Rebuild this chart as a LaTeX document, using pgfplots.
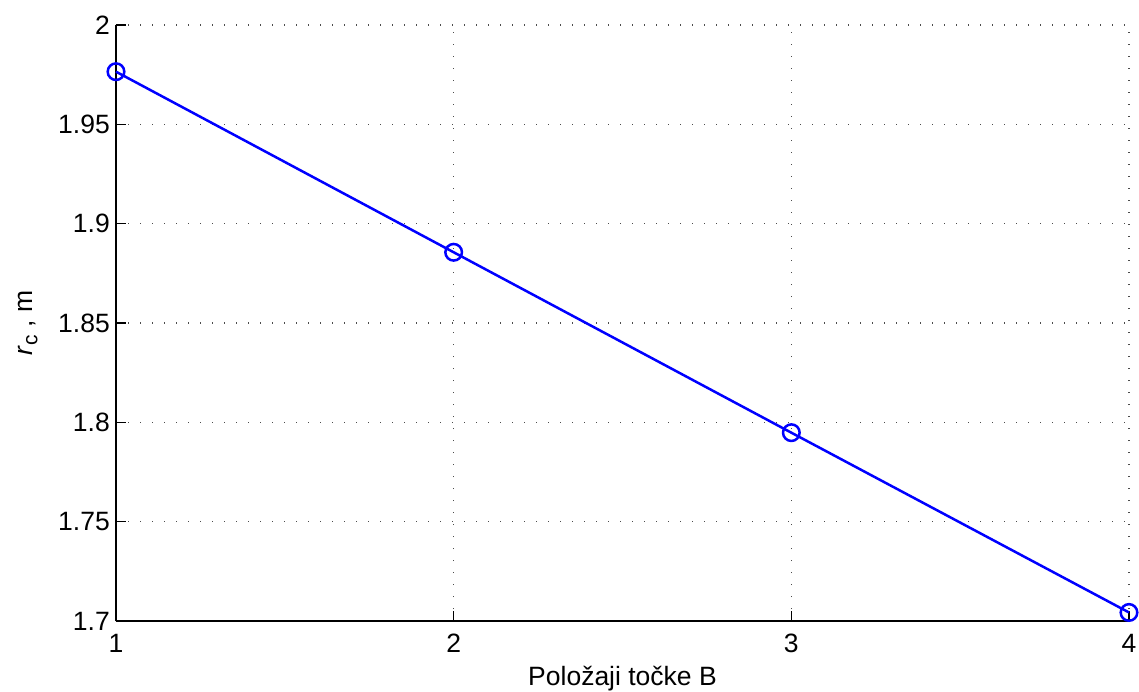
\documentclass[border=0pt]{standalone}
\usepackage{pgfplots}
\pgfplotsset{compat=1.18}
\usepackage{fontspec}
\setmainfont{Liberation Sans}
\begin{document}
\begin{tikzpicture}
\path[use as bounding box] (-116pt,-70pt) rectangle (1023pt,621pt);
\begin{axis}[
  at={(0pt,0pt)}, anchor=south west,
  scale only axis, width=1013pt, height=596pt,
  xmin=1, xmax=4, ymin=1.7, ymax=2,
  xtick={1,2,3,4},
  ytick={1.7,1.75,1.8,1.85,1.9,1.95,2},
  axis x line*=bottom, axis y line*=left,
  axis line style={black, line width=1.2pt},
  tick align=inside, major tick length=10pt,
  tick style={black, line width=1.2pt},
  grid=major,
  major grid style={black!70, line width=1.3pt, dash pattern=on 1.3pt off 10.7pt},
  /pgf/number format/assume math mode=true,
  tick label style={font=\fontsize{26.5}{31}\selectfont},
  xticklabel style={anchor=base, yshift=-31pt},
  yticklabel style={anchor=east, inner sep=0pt, xshift=-6pt},
  label style={font=\fontsize{26.5}{31}\selectfont},
  xlabel={Položaji točke B},
  xlabel style={at={(axis description cs:0.5,0)}, anchor=base, yshift=-64pt},
  ylabel={\textit{r}\raisebox{-0.35ex}{\fontsize{21}{24}\selectfont c} , m},
  ylabel style={at={(axis description cs:-0.0869,0.5)}, anchor=center},
  clip=false,
]
\addplot[color=blue, line width=2.5pt, mark=o, mark size=8.3pt, mark options={line width=2.5pt}]
  coordinates {(1,1.9765) (2,1.8856) (3,1.7948) (4,1.7043)};
\end{axis}
\end{tikzpicture}
\end{document}
